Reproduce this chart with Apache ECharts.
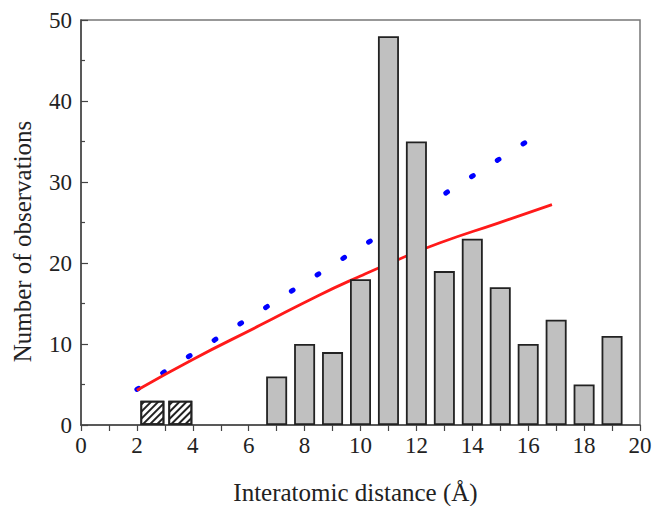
<!DOCTYPE html>
<html><head><meta charset="utf-8">
<script src="https://cdn.jsdelivr.net/npm/echarts@6/dist/echarts.min.js"></script>
<style>html,body{margin:0;padding:0;background:#fff}#c{width:653px;height:506px}</style>
</head><body><div id="c"></div>
<script>
// hatched bars (short distances)
var hatchX = [2.5, 3.5];
var hatchY = [3, 3];
// gray bars
var barX = [7, 8, 9, 10, 11, 12, 13, 14, 15, 16, 17, 18, 19];
var barY = [6, 10, 9, 18, 48, 35, 19, 23, 17, 10, 13, 5, 11];
// red fitted curve
var redX = [2, 4, 6.4, 8.5, 10, 11.4, 12.85, 14.9, 16.85];
var redY = [4.3, 8.1, 12.3, 16.0, 18.4, 20.5, 22.5, 24.9, 27.2];
// blue dotted line
var blueX = [2, 16];
var blueY = [4.4, 35.1];

function pairs(xs, ys){ return xs.map(function(x,i){ return [x, ys[i]]; }); }

var font = '"Liberation Serif", "Times New Roman", serif';
var chart = echarts.init(document.getElementById('c'), null, {renderer:'svg'});
chart.setOption({
  animation:false,
  grid:{left:81, right:13, top:20, bottom:81, show:true, borderColor:'#777', borderWidth:1.5,
        backgroundColor:'transparent', containLabel:false, outerBoundsMode:'none'},
  xAxis:{
    type:'value', min:0, max:20, interval:2,
    name:'Interatomic distance (Å)', nameLocation:'middle', nameGap:55,
    nameTextStyle:{fontFamily:font, fontSize:25, color:'#222', padding:[0,10,0,0]},
    axisLine:{show:true, lineStyle:{color:'#444', width:1.5}},
    axisTick:{show:true, inside:false, length:6, lineStyle:{color:'#444', width:1.2}},
    minorTick:{show:true, splitNumber:2, length:6, lineStyle:{color:'#444', width:1.2}},
    axisLabel:{fontFamily:font, fontSize:23, color:'#222', margin:9},
    splitLine:{show:false}
  },
  yAxis:{
    type:'value', min:0, max:50, interval:10,
    name:'Number of observations', nameLocation:'middle', nameGap:46,
    nameTextStyle:{fontFamily:font, fontSize:25, color:'#222', padding:[0,0,0,-38]},
    axisLine:{show:true, lineStyle:{color:'#444', width:1.5}},
    axisTick:{show:true, inside:true, length:7, lineStyle:{color:'#444', width:1.2}},
    minorTick:{show:true, splitNumber:2, length:4, lineStyle:{color:'#444', width:1.2}},
    axisLabel:{fontFamily:font, fontSize:23, color:'#222', margin:9},
    splitLine:{show:false}
  },
  series:[
    {type:'line', data:pairs(blueX, blueY), symbol:'none', z:1,
     lineStyle:{color:'#0000ff', width:5, type:[2, 28.5], cap:'round'}},
    {type:'line', data:pairs(redX, redY), symbol:'none', smooth:true, z:2,
     lineStyle:{color:'#ff1a1a', width:2.8}},
    {type:'bar', data:pairs(hatchX, hatchY), barWidth:24, z:3,
     itemStyle:{color:'#ffffff', borderColor:'#222', borderWidth:1.8,
       decal:{symbol:'rect', symbolSize:1, color:'#222', dashArrayX:[1,0], dashArrayY:[1.8,2.6], rotation:-Math.PI/4}}},
    {type:'bar', data:pairs(barX, barY), barWidth:21, z:3, barGap:'-100%',
     itemStyle:{color:'#c0c0c0', borderColor:'#222', borderWidth:1.8}}
  ]
});
</script>
</body></html>
